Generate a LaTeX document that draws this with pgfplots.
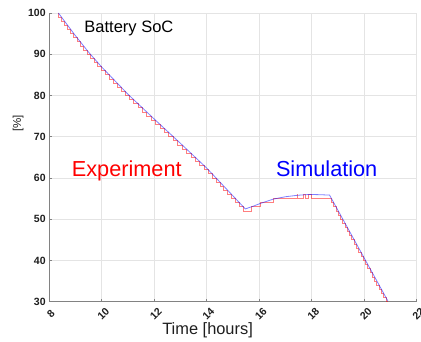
\documentclass[border=0pt]{standalone}
\usepackage{fontspec}
\setmainfont{Liberation Sans}
\usepackage{pgfplots}
\pgfplotsset{compat=1.18}
\definecolor{gridc}{RGB}{228,228,228}
\definecolor{axc}{RGB}{130,130,130}
\definecolor{txt}{RGB}{30,30,30}
\begin{document}
\begin{tikzpicture}
\begin{axis}[
  at={(0,0)}, anchor=south west,
  width=367.5pt, height=288.7pt, scale only axis,
  xmin=8, xmax=22, ymin=30, ymax=100,
  xtick={8,10,...,22}, ytick={30,40,...,100},
  axis x line=bottom, axis y line=left,
  axis line style={draw=axc, line width=0.6pt, -},
  tick align=inside, major tick length=3pt,
  tick style={draw=axc, line width=0.5pt},
  grid=major, major grid style={draw=gridc, line width=0.5pt},
  /pgf/number format/assume math mode=true,
  ticklabel style={font=\fontsize{10.5}{12}\selectfont\bfseries, text=txt},
  xticklabel style={yshift=-12pt, xshift=1.7pt, rotate=45, anchor=center},
  xlabel={Time [hours]},
  xlabel style={at={(axis description cs:0.431,0)}, anchor=base, yshift=-32.3pt, font=\fontsize{16.4}{19}\selectfont, text=txt},
  ylabel={[\%]},
  ylabel style={at={(axis description cs:-0.0844,0.618)}, anchor=center, font=\fontsize{11.5}{13}\selectfont, text=txt},
  clip=false,
]
\addplot[const plot, red, opacity=0.5, line width=0.8pt] coordinates {
(8.35,100)(8.36,99)(8.468,98)(8.586,97)(8.705,96)(8.823,95)(8.941,94)
(9.063,93)(9.188,92)(9.313,91)(9.438,90)(9.569,89)(9.708,88)(9.847,87)(9.986,86)
(10.136,85)(10.288,84)(10.439,83)(10.591,82)(10.742,81)(10.894,80)
(11.05,79)(11.217,78)(11.383,77)(11.55,76)(11.717,75)(11.883,74)
(12.051,73)(12.220,72)(12.390,71)(12.559,70)(12.729,69)(12.898,68)
(13.067,67)(13.233,66)(13.4,65)(13.567,64)(13.733,63)(13.9,62)
(14.059,61)(14.208,60)(14.356,59)(14.505,58)(14.653,57)(14.802,56)(14.950,55)
(15.099,54)(15.247,53)(15.396,52)(15.72,53)(16.03,54)(16.53,55)
(17.44,56)(17.47,55)(17.67,56)(17.76,55)(17.86,56)(18.0,55)
(18.753,54)(18.840,53)(18.926,52)(19.012,51)(19.099,50)(19.185,49)(19.272,48)
(19.358,47)(19.445,46)(19.531,45)(19.617,44)(19.704,43)(19.790,42)(19.877,41)
(19.963,40)(20.050,39)(20.136,38)(20.222,37)(20.309,36)(20.395,35)(20.482,34)
(20.568,33)(20.654,32)(20.741,31)(20.827,30)(20.9,30)
};
\addplot[blue, opacity=0.5, line width=0.8pt] coordinates {
(8.35,100)(9.0,94.5)(9.5,90.5)(10,86.9)(11,80.3)(12,74.3)(13,68.4)(14,62.4)
(15.47,52.5)(15.75,53.1)(16.03,53.8)(16.55,54.9)(17.0,55.45)(17.45,55.8)
(17.9,56.0)(18.3,55.95)(18.68,55.85)(20.9,30.2)
};
\node[anchor=base, font=\fontsize{16.5}{19}\selectfont, text=black] at (axis description cs:0.217,0.933) {Battery SoC};
\node[anchor=base, font=\fontsize{21.7}{25}\selectfont, text=red] at (axis description cs:0.211,0.433) {Experiment};
\node[anchor=base, font=\fontsize{21.7}{25}\selectfont, text=blue] at (axis description cs:0.755,0.433) {Simulation};
\end{axis}
\pgfresetboundingbox
\path[use as bounding box] (-49.2pt,-39.3pt) rectangle (371.8pt,301.7pt);
\end{tikzpicture}
\end{document}
